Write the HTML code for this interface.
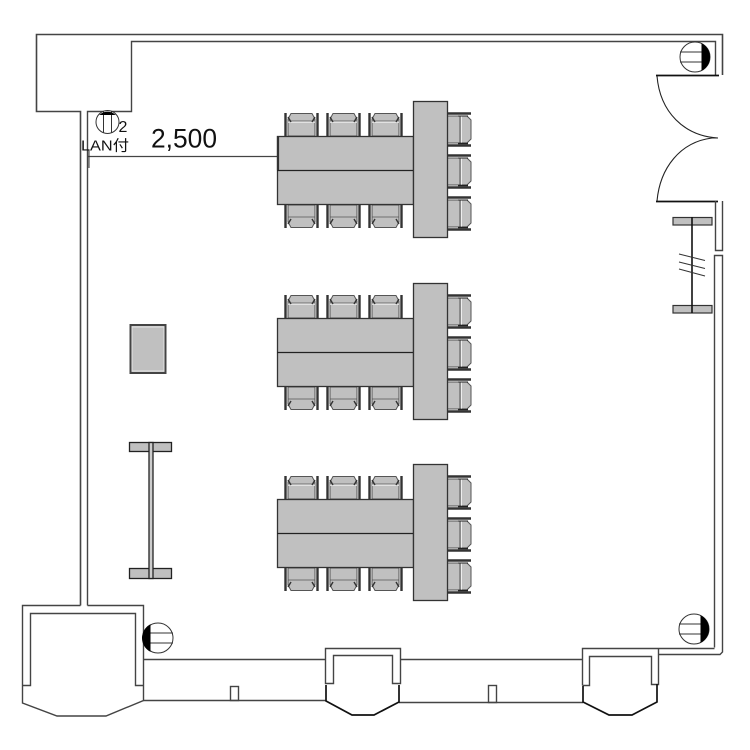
<!DOCTYPE html>
<html><head><meta charset="utf-8"><style>
html,body{margin:0;padding:0;background:#fff}
svg{display:block}
text{font-family:"Liberation Sans","Noto Sans CJK JP",sans-serif;fill:#111}
</style></head><body>
<svg width="750" height="750" viewBox="0 0 750 750" xmlns="http://www.w3.org/2000/svg">
<defs>
<g id="chT">
<path d="M288 136V119L291 113.500H312L315 119V136Z" fill="#c0c0c0" stroke="#555" stroke-width="1"/>
<path d="M285.500 136V113M317.500 136V113" stroke="#333" stroke-width="2.400" fill="none"/>
<path d="M288 122H315" stroke="#eee" stroke-width="1.500"/>
<path d="M288 121H315" stroke="#555" stroke-width="0.800"/>
<path d="M288 117L291 122M315 117L312 122" stroke="#333" stroke-width="1.400"/>
</g>
<g id="chB">
<path d="M288 205V222L291 227.500H312L315 222V205Z" fill="#c0c0c0" stroke="#555" stroke-width="1"/>
<path d="M285.500 205V228M317.500 205V228" stroke="#333" stroke-width="2.400" fill="none"/>
<path d="M288 217H315" stroke="#555" stroke-width="0.800"/>
<path d="M288 224L291 219M315 224L312 219" stroke="#333" stroke-width="1.400"/>
</g>
<g id="chR">
<path d="M447 116H467L471 120V139L467 143H447Z" fill="#c0c0c0" stroke="#555" stroke-width="1"/>
<path d="M447 113.500H471M447 145.500H471" stroke="#333" stroke-width="2.400" fill="none"/>
<path d="M460 116V143" stroke="#555" stroke-width="1"/>
<path d="M461.500 116V143" stroke="#eee" stroke-width="1"/>
<path d="M458 143.500H468" stroke="#222" stroke-width="1.600"/>
<path d="M458 116H468" stroke="#222" stroke-width="1"/>
</g>
<g id="set">
<use href="#chT"/><use href="#chT" x="42"/><use href="#chT" x="84"/>
<use href="#chB"/><use href="#chB" x="42"/><use href="#chB" x="84"/>
<use href="#chR"/><use href="#chR" y="42"/><use href="#chR" y="84"/>
<rect x="277.500" y="136.500" width="136" height="68" fill="#c0c0c0" stroke="#333" stroke-width="1.300"/>
<path d="M277 170.500H413" stroke="#222" stroke-width="1.300"/>
<rect x="413.500" y="101.500" width="34" height="136" fill="#c0c0c0" stroke="#333" stroke-width="1.300"/>
</g>
</defs>
<g fill="none" stroke="#444" stroke-width="1.400">
<!-- top-left alcove and left wall -->
<path d="M80.500 605.500V111.500H36.500V34.500H722.500V75" stroke-width="1.600"/>
<path d="M87.500 605.500V111.500H131.500V41.500H715.500V75"/>
<!-- door frame -->
<path d="M656 75.500H719" stroke="#111" stroke-width="1.800"/>
<path d="M656 201.500H718" stroke="#111" stroke-width="1.800"/>
<path d="M657 76C660 112 684 136 718 138M711 138H718" stroke="#222" stroke-width="1.100"/>
<path d="M657 201C660 168 680 142 712 138" stroke="#222" stroke-width="1.100"/>
<!-- right wall -->
<path d="M715.500 201V250.500H722.500V201"/>
<path d="M714.500 647.500V255.500H722.500V652L720 654.500H658"/>
<!-- bottom-left box -->
<path d="M87.500 605.500H143.500V700.500L106 716H57L22.500 703V605.500H80.500"/>
<path d="M22.500 685.500H30.500V613.500H135.500V685.500H143.500"/>
<!-- bottom walls -->
<path d="M143.500 659.500H325.500M143.500 700.500H326"/>
<rect x="230.500" y="686.500" width="8" height="14"/>
<path d="M400.500 659.500H582.500M399 702.500H583"/>
<rect x="488.500" y="685.500" width="8" height="17"/>
<!-- bays -->
<path d="M325.500 683.500V648.500H400.500V683.500H392.500V655.500H333.500V683.500Z"/>
<path d="M582.500 685.500V648.500H714.500"/>
<path d="M658.500 648.500V684.500H651.500V656.500H589.500V685.500H582.500"/>
<path d="M326 685V701L352 715H374L399 702V685" stroke="#111" stroke-width="1.700"/>
<path d="M583 686V702L609 715H632L657 702V684" stroke="#111" stroke-width="1.700"/>
</g>
<!-- outlets -->
<g stroke="#333" stroke-width="1" fill="#fff">
<circle cx="107.500" cy="122" r="11.500"/>
<path d="M103.500 111V133M111.500 111V133" fill="none"/>
<circle cx="695" cy="57" r="15"/><path d="M680 52H703M680 62H703" fill="none"/>
<circle cx="158" cy="638" r="15"/><path d="M150 633H173M150 643H173" fill="none"/>
<circle cx="694" cy="629" r="15"/><path d="M679 624H702M679 634H702" fill="none"/>
</g>
<path d="M99.300 115A11.500 11.500 0 0 1 115.700 115Z" fill="#000"/>
<path d="M702 44A15 15 0 0 1 702 70Z" fill="#000" stroke="#000"/>
<path d="M150 625A15 15 0 0 0 150 651Z" fill="#000" stroke="#000"/>
<path d="M701 616A15 15 0 0 1 701 642Z" fill="#000" stroke="#000"/>
<!-- dimension -->
<path d="M88 156.500H278" stroke="#444" stroke-width="1.200"/>
<path d="M89 150V168" stroke="#333" stroke-width="1"/>
<!-- tables -->
<use href="#set"/>
<use href="#set" y="182"/>
<use href="#set" y="363"/>
<path d="M278 136V170" stroke="#333" stroke-width="2.200"/>
<!-- right curtain -->
<g fill="#c0c0c0" stroke="#333" stroke-width="1.200">
<rect x="673" y="217.500" width="39" height="7.500"/>
<rect x="673" y="305.500" width="39" height="7.500"/>
</g>
<path d="M692 217V313" stroke="#111" stroke-width="1.600"/>
<path d="M679 254L705 260.500M679 262L705 268.500M679 269L705 276" stroke="#333" stroke-width="1"/>
<!-- left items -->
<rect x="130.500" y="325" width="35" height="48" fill="#c0c0c0" stroke="#444" stroke-width="2"/>
<rect x="132" y="327" width="32" height="44" fill="none" stroke="#e4e4e4" stroke-width="1"/>
<g fill="#c0c0c0" stroke="#222" stroke-width="1.300">
<rect x="129.500" y="442.500" width="42" height="9"/>
<rect x="129.500" y="568.500" width="42" height="10"/>
<rect x="149" y="442.500" width="4" height="136" fill="#ccc"/>
</g>
<!-- labels -->
<text x="118.500" y="132" font-size="16">2</text>
<text x="81" y="150.500" font-size="15" textLength="48" lengthAdjust="spacingAndGlyphs">LAN付</text>
<text x="151" y="147.500" font-size="27" textLength="66" lengthAdjust="spacingAndGlyphs">2,500</text>
</svg>
</body></html>
